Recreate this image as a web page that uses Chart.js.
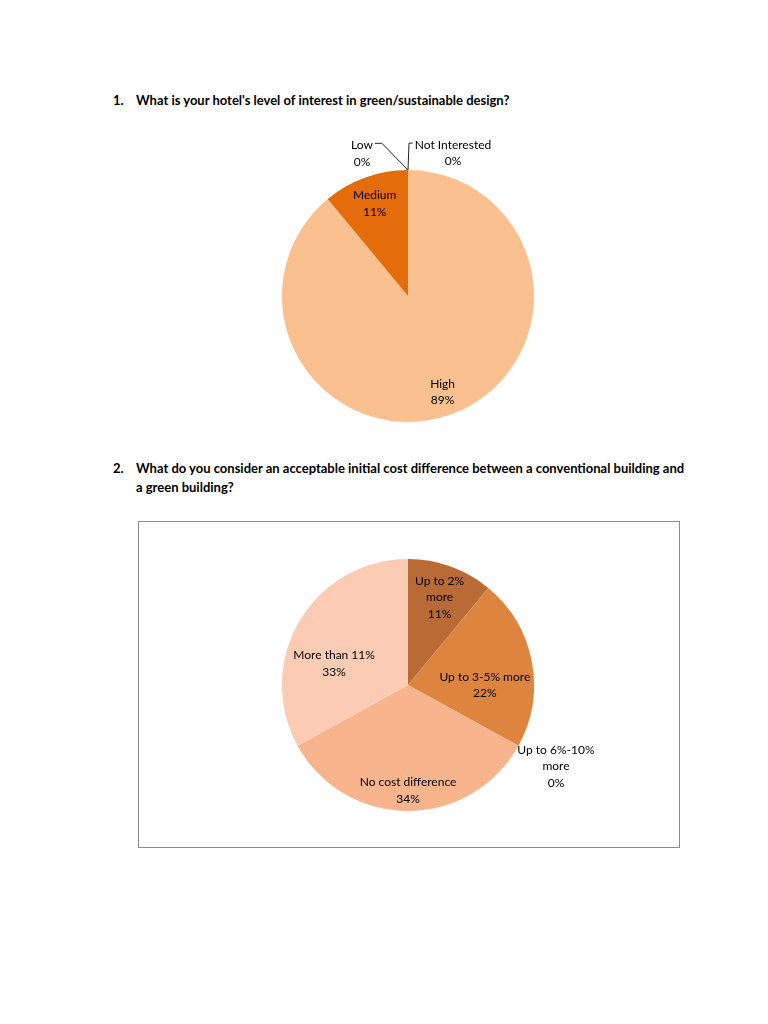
<!DOCTYPE html>
<html>
<head>
<meta charset="utf-8">
<script src="https://cdn.jsdelivr.net/npm/chart.js@4.4.1/dist/chart.umd.min.js"></script>
<style>
  html,body{margin:0;padding:0;background:#fff;}
  body{width:768px;height:1024px;position:relative;overflow:hidden;font-family:Lato,"Open Sans",sans-serif;color:#000;}
  .q{position:absolute;font-weight:bold;font-size:13px;line-height:19px;}
  .q .n{position:absolute;left:0;}
  .q .t{position:absolute;left:23px;}
  #box{position:absolute;left:138px;top:521px;width:540px;height:325px;border:1px solid #8c8c8c;}
  canvas{position:absolute;}
</style>
</head>
<body>
<div class="q" style="left:113px;top:91px;width:600px;"><span class="n">1.</span><span class="t">What is your hotel's level of interest in green/sustainable design?</span></div>
<div class="q" style="left:113px;top:459px;width:600px;"><span class="n">2.</span><span class="t" style="width:555px;">What do you consider an acceptable initial cost difference between a conventional building and a green building?</span></div>
<div id="box"></div>
<canvas id="c1" width="400" height="400" style="left:208px;top:96px;"></canvas>
<canvas id="c2" width="400" height="300" style="left:208px;top:535px;"></canvas>
<script>
// ---- data ----
const interestCategories = ['High', 'Medium', 'Low', 'Not Interested'];
const interestValues = [89, 11, 0, 0];
const interestColors = ['#FAC08F', '#E46C0A', '#F79646', '#FBD5B5'];

const costCategories = ['Up to 2% more', 'Up to 3-5% more', 'Up to 6%-10% more', 'No cost difference', 'More than 11%'];
const costValues = [11, 22, 0, 34, 33];
const costColors = ['#B86B34', '#DD843F', '#E9A06A', '#F8B48C', '#FBCCB3'];

// ---- label drawing plugin ----
function wrap(ctx, text, maxW){
  const words = text.split(' '); const lines=[]; let cur='';
  words.forEach(w=>{
    const test = cur ? cur+' '+w : w;
    if (cur && ctx.measureText(test).width > maxW){ lines.push(cur); cur=w; } else cur=test;
  });
  if (cur) lines.push(cur);
  return lines;
}
const sliceLabels = {
  id:'sliceLabels',
  afterDatasetsDraw(chart, args, opts){
    const ctx = chart.ctx;
    const meta = chart.getDatasetMeta(0);
    const data = chart.data.datasets[0].data;
    const total = data.reduce((a,b)=>a+b,0);
    ctx.save();
    ctx.font = opts.font;
    ctx.fillStyle = '#000';
    ctx.textAlign = 'center';
    ctx.textBaseline = 'middle';
    const lh = opts.lineHeight;
    meta.data.forEach((arc,i)=>{
      const p = opts.place[i];
      const pr = arc.getProps(['x','y','startAngle','endAngle','outerRadius'], true);
      const ang = p.angle != null ? (p.angle-90)*Math.PI/180 : (pr.startAngle+pr.endAngle)/2;
      const d = pr.outerRadius*p.r;
      const lx = pr.x + Math.cos(ang)*d, ly = pr.y + Math.sin(ang)*d;
      const pct = Math.round(data[i]/total*100)+'%';
      const lines = wrap(ctx, chart.data.labels[i], p.wrap || 999).concat([pct]);
      const y0 = ly - (lines.length-1)*lh/2;
      let maxW = 0;
      lines.forEach((s,k)=>{ ctx.fillText(s, lx, y0+k*lh); maxW=Math.max(maxW, ctx.measureText(s).width); });
      if (p.leader){
        const mid = (pr.startAngle+pr.endAngle)/2;
        const ax = pr.x + Math.cos(mid)*pr.outerRadius, ay = pr.y + Math.sin(mid)*pr.outerRadius;
        const side = p.leader === 'right' ? 1 : -1;
        const ex = lx + side*(maxW/2+2), ey = y0 - 2;
        const bx = p.leader === 'right' ? lx + maxW/2 + 9 : ax + 1;
        ctx.strokeStyle = '#222'; ctx.lineWidth = 1;
        ctx.beginPath(); ctx.moveTo(ax, ay); ctx.lineTo(bx, ey); ctx.lineTo(ex, ey); ctx.stroke();
      }
    });
    ctx.restore();
  }
};

function makePie(id, labels, values, colors, place){
  return new Chart(document.getElementById(id), {
    type:'pie',
    data:{ labels, datasets:[{ data: values, backgroundColor: colors, borderWidth:0 }] },
    options:{
      responsive:false, animation:false, radius:126,
      layout:{padding:0},
      plugins:{ legend:{display:false}, tooltip:{enabled:false},
        sliceLabels:{ font:'12px Lato', lineHeight:16.5, place } }
    },
    plugins:[sliceLabels]
  });
}

makePie('c1', interestCategories, interestValues, interestColors, [
  {r:0.81}, {r:0.78},
  {r:1.188, angle:342.1, leader:'right'},
  {r:1.187, angle:17.5, leader:'left'}
]);
makePie('c2', costCategories, costValues, costColors, [
  {r:0.74, wrap:60}, {r:0.61, angle:90}, {r:1.34, wrap:80}, {r:0.84}, {r:0.61, angle:286}
]);
</script>
</body>
</html>
